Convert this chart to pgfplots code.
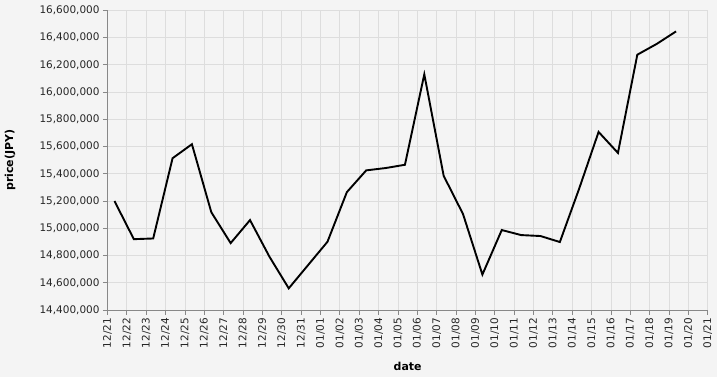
\documentclass[border=0pt]{standalone}
\usepackage{pgfplots}
\pgfplotsset{compat=1.18}
\usepackage{fontspec}
\setmainfont{DejaVu Sans}
\usetikzlibrary{backgrounds}
\definecolor{bg}{HTML}{F4F4F4}
\definecolor{gridc}{HTML}{DDDDDD}
\definecolor{axc}{HTML}{888888}
\begin{document}
\begin{tikzpicture}
\begin{axis}[
  scale only axis, width=600.3bp, height=299.7bp,
  xmin=0, xmax=31, ymin=14400000, ymax=16600000,
  xtick={0,1,2,3,4,5,6,7,8,9,10,11,12,13,14,15,16,17,18,19,20,21,22,23,24,25,26,27,28,29,30,31},
  xticklabels={12/21,12/22,12/23,12/24,12/25,12/26,12/27,12/28,12/29,12/30,12/31,01/01,01/02,01/03,01/04,01/05,01/06,01/07,01/08,01/09,01/10,01/11,01/12,01/13,01/14,01/15,01/16,01/17,01/18,01/19,01/20,01/21},
  ytick={14400000,14600000,14800000,15000000,15200000,15400000,15600000,15800000,16000000,16200000,16400000,16600000},
  scaled y ticks=false,
  yticklabel style={/pgf/number format/.cd, fixed, 1000 sep={,}, assume math mode=true},
  tick label style={font=\fontsize{10.5}{12}\selectfont, text=black!85},
  x tick label style={rotate=90, anchor=east},
  axis x line*=bottom, axis y line*=left,
  axis line style={axc, line width=0.8bp, -},
  tick style={axc, line width=0.8bp},
  tick align=outside, major tick length=4.5bp,
  grid=major, grid style={gridc, line width=0.8bp},
  xlabel={\bfseries date}, ylabel={\bfseries price(JPY)},
  label style={font=\fontsize{11}{13}\selectfont},
  xlabel style={at={(axis description cs:0.5,-0.1867)}, anchor=center},
  ylabel style={at={(axis description cs:-0.1624,0.5)}, anchor=center},
]
\addplot[black, line width=1.9bp, line join=miter, mark=none] coordinates {
(0.36,15200000) (1.36,14920000) (2.36,14925000) (3.36,15514000) (4.36,15617000)
(5.36,15118000) (6.36,14891000) (7.36,15060000) (8.36,14792000) (9.36,14559000)
(10.36,14730000) (11.36,14901000) (12.36,15265000) (13.36,15425000) (14.36,15442000)
(15.36,15466000) (16.36,16130000) (17.36,15385000) (18.36,15104000) (19.36,14660000)
(20.36,14987000) (21.36,14950000) (22.36,14943000) (23.36,14899000) (24.36,15292000)
(25.36,15707000) (26.36,15553000) (27.36,16274000) (28.36,16353000) (29.36,16445000)
};
\end{axis}
\begin{scope}[on background layer]
\fill[bg] ([xshift=-107.5bp,yshift=-67.3bp]current axis.south west) rectangle ([xshift=9.2bp,yshift=10.3bp]current axis.north east);
\end{scope}
\end{tikzpicture}
\end{document}
